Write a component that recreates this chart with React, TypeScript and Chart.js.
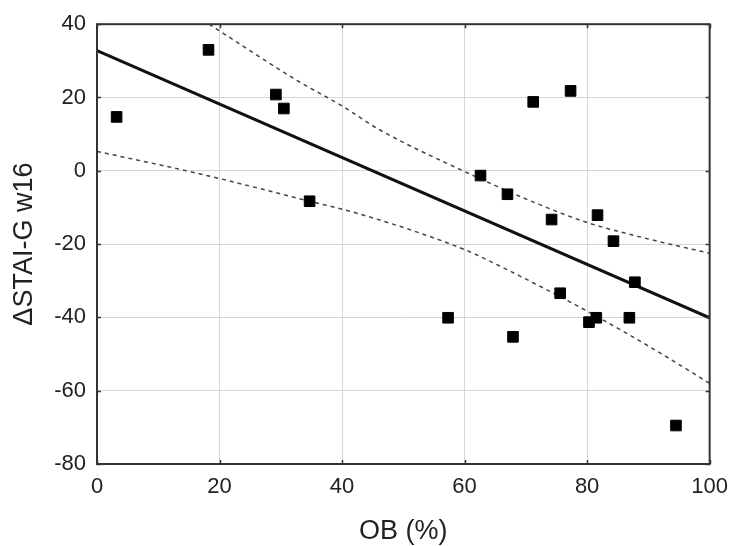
import React, { useEffect, useRef } from "react";
import { Chart, registerables } from "chart.js";

Chart.register(...registerables);

// Observed points: OB (%) vs ΔSTAI-G w16
const obValues = [3.2, 18.2, 29.2, 30.5, 34.7, 57.3, 62.6, 67.0, 67.9, 71.2, 74.2, 75.6, 77.3, 80.3, 81.5, 81.7, 84.3, 86.9, 87.8, 94.5];
const staiValues = [14.7, 33.0, 20.8, 17.0, -8.3, -40.1, -1.3, -6.4, -45.3, 18.8, -13.3, -33.4, 21.8, -41.3, -40.1, -12.1, -19.2, -40.1, -30.4, -69.5];

// Regression line
const fitX = [0, 100];
const fitY = [32.8, -40.1];

// Confidence band curves
const upperX = [18.3, 33, 40, 45.9, 60, 71.9, 80, 90, 100];
const upperY = [40, 24.3, 17.7, 11.4, -0.2, -9.0, -14.1, -18.6, -22.5];
const lowerX = [0, 16.7, 34.7, 42.7, 60, 65.4, 80, 91.4, 100];
const lowerY = [5.3, -0.8, -8.3, -11.7, -21.5, -25.7, -38.3, -49.2, -58];

// Axis ticks
const xTicks = [0, 20, 40, 60, 80, 100];
const yTicks = [-80, -60, -40, -20, 0, 20, 40];

const FONT = "'Liberation Sans', Arial, sans-serif";

const framePlugin = {
  id: "frame",
  afterDraw(chart: any) {
    const { ctx, chartArea } = chart;
    const { left, right, top, bottom } = chartArea;
    const xs = chart.scales.x;
    const ys = chart.scales.y;
    ctx.save();
    ctx.strokeStyle = "#333";
    ctx.lineWidth = 1.5;
    ctx.beginPath();
    xTicks.forEach((v) => {
      const px = Math.round(xs.getPixelForValue(v)) + 0.5;
      ctx.moveTo(px, bottom);
      ctx.lineTo(px, bottom - 4);
      ctx.moveTo(px, top);
      ctx.lineTo(px, top + 4);
    });
    yTicks.forEach((v) => {
      const py = Math.round(ys.getPixelForValue(v)) + 0.5;
      ctx.moveTo(left, py);
      ctx.lineTo(left + 4, py);
      ctx.moveTo(right, py);
      ctx.lineTo(right - 4, py);
    });
    ctx.stroke();
    ctx.lineWidth = 2;
    ctx.strokeRect(left, top, right - left, bottom - top);
    ctx.restore();
  },
};

export default function App() {
  const ref = useRef<HTMLCanvasElement | null>(null);

  useEffect(() => {
    if (!ref.current) return;
    const pts = obValues.map((x, i) => ({ x, y: staiValues[i] }));
    const fit = fitX.map((x, i) => ({ x, y: fitY[i] }));
    const up = upperX.map((x, i) => ({ x, y: upperY[i] }));
    const lo = lowerX.map((x, i) => ({ x, y: lowerY[i] }));

    const chart = new Chart(ref.current, {
      type: "scatter",
      data: {
        datasets: [
          {
            data: pts,
            pointStyle: "rect",
            pointRadius: 7.5,
            backgroundColor: "#000",
            borderColor: "#000",
            borderWidth: 1,
            showLine: false,
          } as any,
          {
            type: "line",
            data: fit,
            borderColor: "#111",
            borderWidth: 3,
            pointRadius: 0,
            fill: false,
          } as any,
          {
            type: "line",
            data: up,
            borderColor: "#444",
            borderWidth: 1.5,
            borderDash: [4, 4],
            pointRadius: 0,
            cubicInterpolationMode: "monotone",
            fill: false,
          } as any,
          {
            type: "line",
            data: lo,
            borderColor: "#444",
            borderWidth: 1.5,
            borderDash: [4, 4],
            pointRadius: 0,
            cubicInterpolationMode: "monotone",
            fill: false,
          } as any,
        ],
      },
      options: {
        animation: false,
        responsive: true,
        maintainAspectRatio: false,
        layout: { padding: { top: 21, right: 25, left: 0, bottom: 0 } },
        plugins: { legend: { display: false }, tooltip: { enabled: false } },
        scales: {
          x: {
            type: "linear",
            min: 0,
            max: 100,
            afterBuildTicks: (s: any) => {
              s.ticks = xTicks.map((v) => ({ value: v }));
            },
            afterFit: (s: any) => {
              s.height = 82;
            },
            grid: { color: "#d6d6d6", lineWidth: 1, drawTicks: false },
            border: { display: false },
            ticks: { padding: 10, color: "#222", font: { family: FONT, size: 22 } },
            title: {
              display: true,
              text: "OB (%)",
              color: "#222",
              font: { family: FONT, size: 27, lineHeight: 1 },
              padding: { top: 0, bottom: 1 },
            },
          },
          y: {
            type: "linear",
            min: -80,
            max: 40,
            afterBuildTicks: (s: any) => {
              s.ticks = yTicks.map((v) => ({ value: v }));
            },
            afterFit: (s: any) => {
              s.width = 97;
            },
            grid: { color: "#d6d6d6", lineWidth: 1, drawTicks: false },
            border: { display: false },
            ticks: { padding: 11, color: "#222", font: { family: FONT, size: 22 } },
            title: {
              display: true,
              text: "ΔSTAI-G w16",
              color: "#222",
              font: { family: FONT, size: 27, lineHeight: 1 },
              padding: { top: 11, bottom: 0 },
            },
          },
        },
      } as any,
      plugins: [framePlugin],
    });
    return () => chart.destroy();
  }, []);

  return (
    <div style={{ position: "fixed", left: 0, top: 0, width: 738, height: 546, background: "#fff" }}>
      <canvas ref={ref} />
    </div>
  );
}
